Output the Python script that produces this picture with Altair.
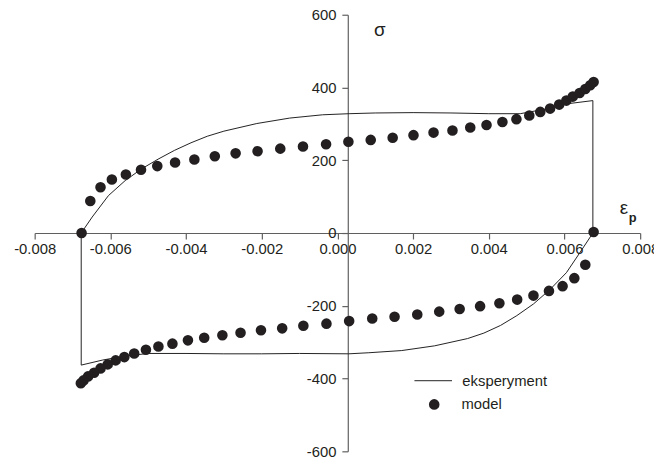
import altair as alt
import pandas as pd

# ---- data ----
exp_eps = [-0.00677, -0.00648, -0.00605, -0.00561, -0.00518, -0.00474, -0.00431, -0.00387,
           -0.00344, -0.00300, -0.00213, -0.00126, -0.00039, 0.00031, 0.00100, 0.00200,
           0.00300, 0.00400, 0.00483, 0.00562, 0.00605, 0.00675, 0.00675,
           0.00640, 0.00605, 0.00562, 0.00518, 0.00474, 0.00431, 0.00387, 0.00344,
           0.00257, 0.00170, 0.00083, 0.00030, -0.00100, -0.00200, -0.00300, -0.00400,
           -0.00500, -0.00560, -0.00620, -0.00677, -0.00677]
exp_sig = [0, 44, 103, 144, 176, 203, 227, 248,
           266, 280, 301, 316, 325, 328, 330, 331,
           330, 328, 328, 343, 355, 364, 0,
           -55, -109, -155, -195, -227, -254, -275, -290,
           -310, -323, -329, -332, -331, -332, -332, -331,
           -331, -338, -349, -363, 0]

mod_up_eps = [-0.00676, -0.00653, -0.00626, -0.00596, -0.00559, -0.00519, -0.00476, -0.00429,
              -0.00378, -0.00324, -0.00269, -0.00211, -0.00151, -0.00091, -0.00030, 0.00029,
              0.00088, 0.00146, 0.00201, 0.00254, 0.00304, 0.00351, 0.00394, 0.00436,
              0.00473, 0.00507, 0.00536, 0.00562, 0.00586, 0.00605, 0.00622, 0.00640,
              0.00655, 0.00668, 0.00677]
mod_up_sig = [0, 88, 126, 147, 161, 174, 184, 194,
              202, 211, 219, 225, 232, 238, 244, 251,
              256, 262, 269, 276, 282, 290, 297, 305,
              313, 323, 333, 342, 353, 364, 375, 385,
              396, 406, 415]
mod_dn_eps = [0.00677, 0.00655, 0.00626, 0.00595, 0.00559, 0.00518, 0.00475, 0.00428,
              0.00377, 0.00323, 0.00269, 0.00211, 0.00151, 0.00092, 0.00031, -0.00029,
              -0.00090, -0.00146, -0.00202, -0.00256, -0.00304, -0.00352, -0.00395, -0.00436,
              -0.00473, -0.00506, -0.00537, -0.00563, -0.00586, -0.00607, -0.00626, -0.00643,
              -0.00659, -0.00671, -0.00678]
mod_dn_sig = [3, -87, -124, -146, -159, -172, -183, -193,
              -201, -209, -216, -224, -230, -235, -242, -249,
              -255, -262, -267, -274, -281, -288, -295, -304,
              -312, -321, -331, -341, -350, -361, -372, -384,
              -394, -405, -413]

x_ticks = [-0.008, -0.006, -0.004, -0.002, 0.0, 0.002, 0.004, 0.006, 0.008]
y_ticks = [-600, -400, -200, 0, 200, 400, 600]
series_names = ["eksperyment", "model"]

exp_df = pd.DataFrame({"eps": exp_eps, "sig": exp_sig, "i": list(range(len(exp_eps))),
                       "series": series_names[0]})
mod_df = pd.DataFrame({"eps": mod_up_eps + mod_dn_eps, "sig": mod_up_sig + mod_dn_sig,
                       "series": series_names[1]})
sub_df = pd.DataFrame({"t": ["p"]})

FONT = "Liberation Sans"
INK = "#231f20"
AXC = "#5f5f5f"
MINUS_FIX = "replace(datum.label, '\u2212', '-')"

x_scale = alt.Scale(domain=[-0.008, 0.008], nice=False, zero=False)
y_scale = alt.Scale(domain=[-600, 600], nice=False, zero=False)

x_axis = alt.Axis(values=x_ticks, format=".3f", labelExpr=MINUS_FIX, offset=-221,
                  grid=False, domainColor=AXC, tickColor=AXC, domainWidth=1.2, tickWidth=1.2,
                  tickSize=6, labelFont=FONT, labelFontSize=15, labelColor=INK,
                  labelPadding=3, labelFlush=False, labelOverlap=False,
                  title="ε", titleFont=FONT, titleFontSize=19, titleFontWeight="normal",
                  titleColor=INK, titleX=596, titleY=-26, titleAlign="center",
                  titleBaseline="middle", titleAngle=0)
y_axis = alt.Axis(values=y_ticks, format="d", labelExpr=MINUS_FIX, offset=-317,
                  grid=False, domainColor=AXC, tickColor=AXC, domainWidth=1.2, tickWidth=1.2,
                  tickSize=6, labelFont=FONT, labelFontSize=15, labelColor=INK,
                  labelPadding=6, labelOverlap=False, labelFlush=False,
                  title="σ", titleFont=FONT, titleFontSize=19, titleFontWeight="normal",
                  titleColor=INK, titleX=32, titleY=15, titleAlign="center",
                  titleBaseline="middle", titleAngle=0)

line = alt.Chart(exp_df).mark_line(strokeWidth=1, clip=False).encode(
    x=alt.X("eps:Q", scale=x_scale, axis=x_axis),
    y=alt.Y("sig:Q", scale=y_scale, axis=y_axis),
    order=alt.Order("i:Q"),
    color=alt.Color("series:N",
                    scale=alt.Scale(domain=[series_names[0]], range=[INK]),
                    legend=alt.Legend(title=None, orient="none", legendX=384, legendY=351,
                                      symbolType="stroke", symbolSize=1444,
                                      symbolStrokeWidth=1, symbolStrokeColor=INK,
                                      labelFont=FONT, labelFontSize=15, labelColor=INK,
                                      labelOffset=10, padding=0)),
)

pts = alt.Chart(mod_df).mark_point(filled=True, opacity=1, size=115, color=INK, clip=False).encode(
    x=alt.X("eps:Q", scale=x_scale),
    y=alt.Y("sig:Q", scale=y_scale),
    shape=alt.Shape("series:N",
                    scale=alt.Scale(domain=[series_names[1]], range=["circle"]),
                    legend=alt.Legend(title=None, orient="none", legendX=397, legendY=387,
                                      symbolSize=115, symbolFillColor=INK,
                                      symbolStrokeColor=INK, symbolStrokeWidth=0,
                                      labelFont=FONT, labelFontSize=15, labelColor=INK,
                                      labelOffset=20, padding=0)),
)

sub = alt.Chart(sub_df).mark_text(font=FONT, fontSize=13, fontWeight="bold", color=INK,
                                  align="center", baseline="middle").encode(
    x=alt.value(605.5), y=alt.value(206), text="t:N")

chart = alt.layer(line, pts, sub).properties(
    width=613, height=442,
    autosize=alt.AutoSizeParams(type="none"),
    padding={"left": 27, "top": 4, "right": 14, "bottom": 10},
).configure_view(stroke=None)

chart.save("out.html", embed_options={"renderer": "svg", "actions": False})
